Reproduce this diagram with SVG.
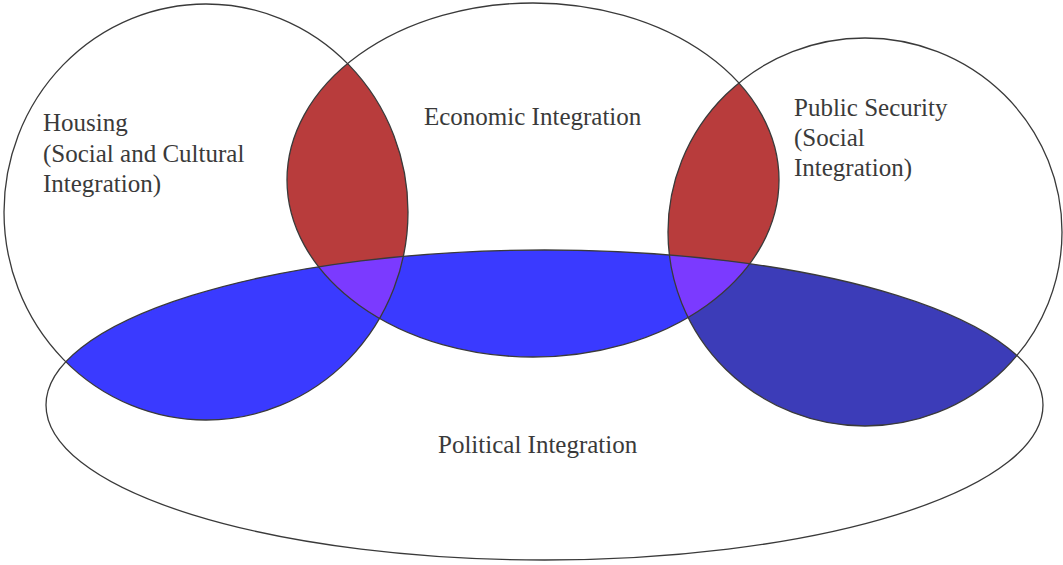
<svg xmlns="http://www.w3.org/2000/svg" width="1063" height="565" viewBox="0 0 1063 565">
<style>
.outline{fill:none;stroke:#3a3a3a;stroke-width:1.3}
.lbl{font-family:"Liberation Serif","Times New Roman",serif;font-size:25px;fill:#3a3a3a}
.red{fill:#b83c3c}
.blue{fill:#3a3aff}
.dblue{fill:#3c3cb8}
.purple{fill:#7b3aff}
</style>
<defs>
<clipPath id="cM"><ellipse cx="533" cy="180" rx="246" ry="177"/></clipPath>
<clipPath id="cP"><ellipse cx="544.5" cy="405" rx="498.5" ry="155"/></clipPath>
</defs>
<rect width="1063" height="565" fill="#ffffff"/>
<g id="fills">
<g clip-path="url(#cM)">
<ellipse class="red" cx="206" cy="212" rx="202" ry="208"/>
<ellipse class="red" cx="865" cy="232" rx="197" ry="194"/>
</g>
<g clip-path="url(#cP)">
<ellipse class="blue" cx="206" cy="212" rx="202" ry="208"/>
<ellipse class="blue" cx="533" cy="180" rx="246" ry="177"/>
<ellipse class="dblue" cx="865" cy="232" rx="197" ry="194"/>
<g clip-path="url(#cM)">
<ellipse class="purple" cx="206" cy="212" rx="202" ry="208"/>
<ellipse class="purple" cx="865" cy="232" rx="197" ry="194"/>
</g>
</g>
</g>
<g id="housing">
<ellipse class="outline" cx="206" cy="212" rx="202" ry="208"/>
<text class="lbl" x="43" y="131">Housing</text>
<text class="lbl" x="43" y="162">(Social and Cultural</text>
<text class="lbl" x="43" y="192">Integration)</text>
</g>
<g id="economic">
<ellipse class="outline" cx="533" cy="180" rx="246" ry="177"/>
<text class="lbl" x="424" y="125">Economic Integration</text>
</g>
<g id="security">
<ellipse class="outline" cx="865" cy="232" rx="197" ry="194"/>
<text class="lbl" x="794" y="116">Public Security</text>
<text class="lbl" x="794" y="146">(Social</text>
<text class="lbl" x="794" y="176">Integration)</text>
</g>
<g id="political">
<ellipse class="outline" cx="544.5" cy="405" rx="498.5" ry="155"/>
<text class="lbl" x="438" y="453">Political Integration</text>
</g>
</svg>
